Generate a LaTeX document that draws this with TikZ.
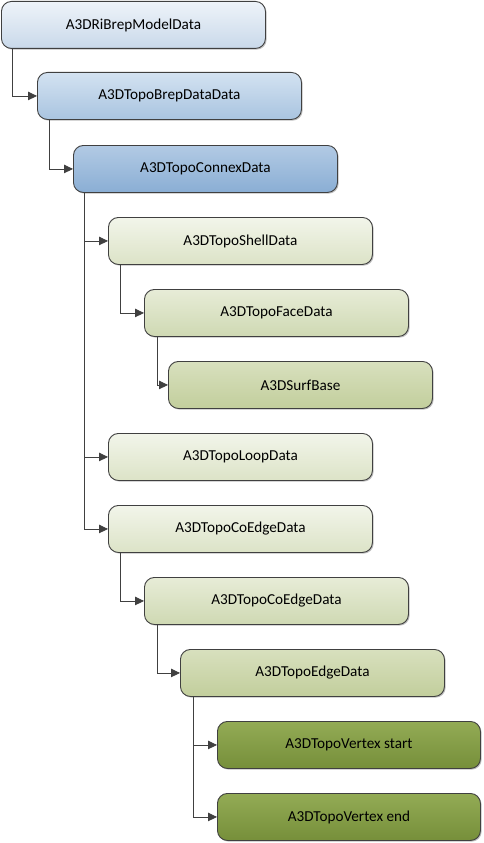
\documentclass[tikz,border=0pt]{standalone}
\usepackage{fontspec}
\setmainfont{Carlito}
\usetikzlibrary{arrows.meta,shadows}
\definecolor{edgec}{HTML}{404040}
\definecolor{b1t}{HTML}{EEF3F9}\definecolor{b1b}{HTML}{C9D9EA}
\definecolor{b2t}{HTML}{D3E2F1}\definecolor{b2b}{HTML}{A9C4E0}
\definecolor{b3t}{HTML}{B2CAE4}\definecolor{b3b}{HTML}{8AAED4}
\definecolor{g1t}{HTML}{F2F5EA}\definecolor{g1b}{HTML}{DCE3C7}
\definecolor{g2t}{HTML}{E7ECD7}\definecolor{g2b}{HTML}{CFD9B3}
\definecolor{g3t}{HTML}{D8E0BE}\definecolor{g3b}{HTML}{C2CE9C}
\definecolor{g4t}{HTML}{93AB55}\definecolor{g4b}{HTML}{768F3A}
\tikzset{
  boxbase/.style={draw=edgec, line width=0.9pt, rounded corners=10pt, anchor=north west,
    minimum width=264pt, minimum height=47pt, inner sep=0pt, text=black,
    font=\fontsize{15.2pt}{17pt}\selectfont,
    drop shadow={shadow xshift=1.2pt, shadow yshift=-1.2pt, opacity=0.25, fill=black}},
  blueA/.style={boxbase, top color=b1t, bottom color=b1b},
  blueB/.style={boxbase, top color=b2t, bottom color=b2b},
  blueC/.style={boxbase, top color=b3t, bottom color=b3b},
  grnA/.style={boxbase, top color=g1t, bottom color=g1b},
  grnB/.style={boxbase, top color=g2t, bottom color=g2b},
  grnC/.style={boxbase, top color=g3t, bottom color=g3b},
  grnD/.style={boxbase, top color=g4t, bottom color=g4b},
  conn/.style={draw=edgec, line width=0.9pt, -{Triangle[length=9pt,width=8.5pt]}}
}
\begin{document}
\begin{tikzpicture}[x=1pt,y=-1pt]
\useasboundingbox (0,0) rectangle (483,843);
\node[blueA] (b1) at (1,1) {A3DRiBrepModelData};
\node[blueB] (b2) at (37,72) {A3DTopoBrepDataData};
\node[blueC] (b3) at (73,145) {A3DTopoConnexData};
\node[grnA] (b4) at (108,217) {A3DTopoShellData};
\node[grnB] (b5) at (144,289) {A3DTopoFaceData};
\node[grnC] (b6) at (168,361) {A3DSurfBase};
\node[grnA] (b7) at (108,433) {A3DTopoLoopData};
\node[grnA] (b8) at (108,505) {A3DTopoCoEdgeData};
\node[grnB] (b9) at (144,577) {A3DTopoCoEdgeData};
\node[grnC] (b10) at (180,649) {A3DTopoEdgeData};
\node[grnD, minimum width=263pt] (b11) at (217,721) {A3DTopoVertex start};
\node[grnD, minimum width=263pt] (b12) at (217,793) {A3DTopoVertex end};
\draw[conn] ([xshift=11pt]b1.south west) |- (b2.west);
\draw[conn] ([xshift=12pt]b2.south west) |- (b3.west);
\draw[conn] ([xshift=11pt]b3.south west) |- (b4.west);
\draw[conn] ([xshift=11pt]b3.south west) |- (b7.west);
\draw[conn] ([xshift=11pt]b3.south west) |- (b8.west);
\draw[conn] ([xshift=12pt]b4.south west) |- (b5.west);
\draw[conn] ([xshift=13pt]b5.south west) |- (b6.west);
\draw[conn] ([xshift=12pt]b8.south west) |- (b9.west);
\draw[conn] ([xshift=13pt]b9.south west) |- (b10.west);
\draw[conn] ([xshift=13pt]b10.south west) |- (b11.west);
\draw[conn] ([xshift=13pt]b10.south west) |- (b12.west);
\end{tikzpicture}
\end{document}
